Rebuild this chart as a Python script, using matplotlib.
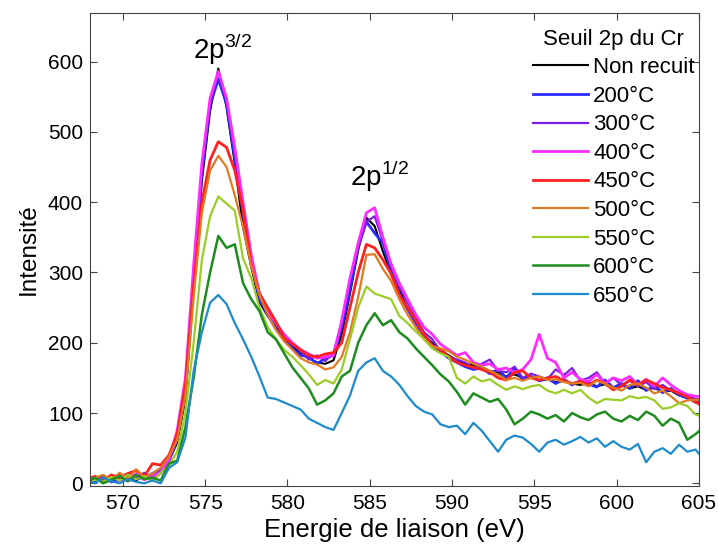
import numpy as np
import matplotlib
matplotlib.use("Agg")
import matplotlib.pyplot as plt

plt.rcParams['font.family'] = ['Liberation Sans', 'DejaVu Sans']
plt.rcParams['mathtext.fontset'] = 'custom'
plt.rcParams['mathtext.rm'] = 'Liberation Sans'

# energie (eV), pas de 0.5 eV
energie = np.arange(567.8, 605.31, 0.5)

non_recuit = [5, 2, 8, 3, 6, 10, 4, 12, 10, 18,
              32, 58, 120, 280, 430, 530, 590, 535, 455, 365,
              308, 258, 238, 222, 205, 195, 185, 178, 172, 170,
              175, 212, 270, 332, 378, 366, 330, 298, 275, 250,
              228, 210, 200, 190, 182, 175, 170, 168, 165, 160,
              157, 152, 155, 150, 152, 146, 148, 144, 146, 142,
              140, 143, 138, 141, 136, 140, 135, 138, 133, 136,
              130, 132, 125, 122, 115, 112]
t200 = [8, 3, 10, 2, 5, 12, 6, 9, 14, 20,
        36, 66, 132, 292, 442, 538, 575, 540, 462, 385,
        315, 262, 240, 220, 208, 192, 182, 180, 170, 178,
        182, 222, 275, 338, 372, 356, 342, 302, 270, 248,
        228, 212, 196, 188, 178, 172, 166, 162, 164, 156,
        162, 150, 164, 147, 152, 146, 150, 142, 148, 140,
        146, 141, 137, 147, 136, 142, 135, 146, 132, 139,
        129, 135, 126, 121, 119, 112]
t300 = [4, 9, 1, 7, 12, 3, 8, 15, 6, 14,
        30, 62, 128, 298, 448, 540, 585, 545, 472, 392,
        318, 265, 245, 228, 210, 198, 188, 176, 182, 174,
        186, 228, 290, 335, 372, 380, 345, 310, 280, 258,
        235, 215, 205, 188, 180, 176, 172, 164, 170, 176,
        160, 158, 166, 150, 156, 152, 148, 162, 154, 164,
        146, 150, 158, 142, 150, 140, 146, 138, 144, 134,
        140, 132, 128, 126, 120, 118]
t400 = [2, 6, 3, 11, 4, 8, 13, 5, 10, 16,
        34, 75, 150, 310, 455, 548, 586, 548, 478, 400,
        325, 270, 245, 228, 212, 200, 190, 184, 178, 180,
        182, 232, 292, 342, 385, 392, 350, 312, 285, 262,
        240, 222, 212, 198, 190, 182, 186, 172, 168, 170,
        162, 164, 158, 162, 176, 212, 178, 172, 150, 158,
        148, 145, 155, 142, 150, 146, 152, 140, 148, 138,
        150, 140, 132, 126, 124, 122]
t450 = [6, 10, 4, 12, 8, 14, 18, 10, 28, 26,
        40, 70, 140, 280, 400, 460, 486, 478, 445, 390,
        310, 270, 250, 230, 207, 198, 190, 182, 180, 184,
        186, 200, 250, 300, 340, 335, 318, 298, 268, 250,
        232, 212, 196, 190, 180, 172, 168, 165, 162, 158,
        150, 147, 158, 160, 150, 147, 150, 152, 146, 142,
        145, 140, 147, 142, 133, 138, 147, 140, 147, 142,
        136, 133, 128, 123, 116, 108]
t500 = [3, 8, 12, 5, 15, 7, 20, 9, 14, 22,
        38, 62, 125, 265, 385, 445, 466, 450, 410, 365,
        310, 268, 240, 218, 202, 190, 178, 172, 169, 162,
        165, 180, 215, 265, 325, 326, 305, 288, 262, 240,
        222, 205, 195, 192, 188, 180, 176, 170, 166, 160,
        155, 147, 150, 146, 150, 152, 147, 148, 144, 142,
        143, 138, 146, 142, 136, 132, 140, 142, 136, 128,
        132, 124, 114, 118, 119, 118]
t550 = [0, 5, 2, 9, 4, 12, 6, 10, 3, 15,
        25, 45, 100, 200, 318, 380, 408, 398, 388, 320,
        292, 250, 222, 205, 190, 180, 168, 155, 140, 147,
        142, 162, 205, 250, 280, 270, 266, 262, 238, 228,
        216, 205, 192, 185, 180, 150, 142, 152, 145, 148,
        140, 133, 138, 134, 138, 140, 132, 128, 133, 128,
        133, 122, 114, 120, 119, 118, 124, 121, 123, 118,
        106, 108, 114, 110, 98, 94]
t600 = [2, 8, 0, 5, 10, 3, 12, 6, 8, 4,
        28, 32, 80, 150, 240, 300, 352, 335, 340, 285,
        262, 245, 215, 205, 185, 165, 150, 135, 112, 118,
        128, 152, 160, 200, 225, 242, 225, 232, 215, 206,
        192, 180, 168, 155, 145, 130, 112, 128, 122, 116,
        120, 105, 84, 92, 102, 98, 92, 97, 88, 100,
        94, 90, 98, 102, 92, 88, 96, 90, 102, 96,
        82, 92, 86, 62, 70, 80]
t650 = [5, 0, 8, 3, 0, 6, 2, 0, 4, 0,
        22, 30, 65, 160, 215, 257, 268, 255, 228, 205,
        180, 152, 122, 120, 115, 110, 105, 92, 86, 80,
        76, 100, 125, 160, 172, 178, 160, 152, 140, 124,
        110, 102, 98, 84, 80, 82, 70, 86, 75, 60,
        45, 62, 68, 65, 56, 45, 58, 62, 55, 60,
        66, 58, 64, 52, 60, 52, 48, 56, 30, 45,
        50, 42, 55, 45, 48, 34]

series = [non_recuit, t200, t300, t400, t450, t500, t550, t600, t650]
labels = ['Non recuit', '200°C', '300°C', '400°C', '450°C', '500°C',
          '550°C', '600°C', '650°C']
colors = ['#000000', '#2a2aff', '#7a1fe0', '#ff2cff', '#ff2020',
          '#e07a20', '#9acd26', '#1e8c1e', '#1e8bcc']
widths = [1.5, 2.0, 1.6, 2.0, 2.0, 1.6, 1.6, 1.8, 1.6]

fig = plt.figure(figsize=(7.18, 5.45), dpi=100)
ax = fig.add_axes([0.1253, 0.108, 0.848, 0.868])

for y, lab, c, w in zip(series, labels, colors, widths):
    ax.plot(energie, y, color=c, lw=w, label=lab)

ax.set_xlim(568, 605)
ax.set_ylim(-4, 669)
ax.set_xticks(range(570, 606, 5))
ax.set_yticks(range(0, 601, 100))
ax.tick_params(direction='in', top=True, right=True, length=5,
               labelsize=15, color='#444444')
ax.tick_params(axis='x', pad=6)
ax.tick_params(axis='y', pad=5)
for s in ax.spines.values():
    s.set_color('#444444')

ax.set_xlabel('Energie de liaison (eV)', fontsize=18.5, labelpad=3)
ax.set_ylabel('Intensité', fontsize=17.5, labelpad=6)

ax.text(576.05, 604, r'2p$^{\mathregular{3/2}}$', fontsize=20,
        ha='center', va='baseline')
ax.text(585.6, 423, r'2p$^{\mathregular{1/2}}$', fontsize=20,
        ha='center', va='baseline')

leg = ax.legend(loc='upper right', bbox_to_anchor=(1.013, 0.993),
                frameon=False, fontsize=16,
                title='Seuil 2p du Cr', title_fontsize=16,
                handlelength=2.5, handletextpad=0.22, labelspacing=0.34,
                borderaxespad=0.0, borderpad=0.55)

fig.savefig('out.png', dpi=100)
